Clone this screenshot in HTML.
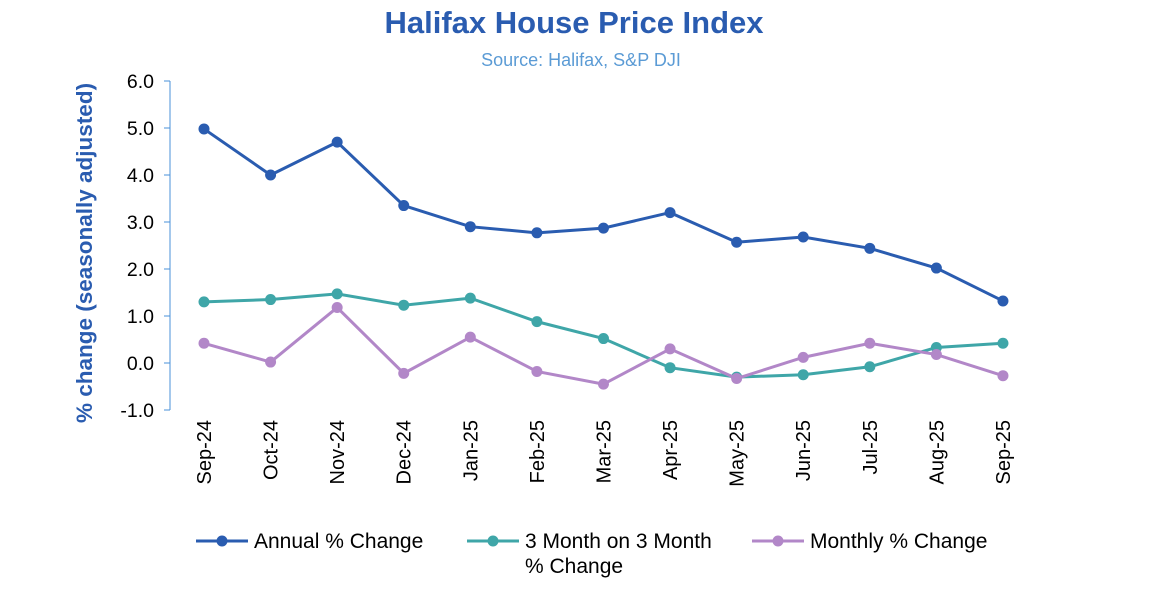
<!DOCTYPE html>
<html><head><meta charset="utf-8"><style>
body{margin:0;background:#fff;font-family:"Liberation Sans",Arial,sans-serif}
</style></head><body>
<svg width="1154" height="594" viewBox="0 0 1154 594" xmlns="http://www.w3.org/2000/svg" font-family="Liberation Sans, Arial, sans-serif">
<text x="574" y="33" text-anchor="middle" font-size="31" font-weight="bold" fill="#2a5cb0">Halifax House Price Index</text>
<text x="581" y="66" text-anchor="middle" font-size="18" fill="#5b9bd5">Source: Halifax, S&amp;P DJI</text>
<text transform="translate(92,253) rotate(-90)" text-anchor="middle" font-size="22.5" font-weight="bold" fill="#2a5cb0">% change (seasonally adjusted)</text>
<g id="axes"></g><g id="series"></g><g id="legend"></g>
</svg>
<script>
const categories=["Sep-24","Oct-24","Nov-24","Dec-24","Jan-25","Feb-25","Mar-25","Apr-25","May-25","Jun-25","Jul-25","Aug-25","Sep-25"];
const annual=[4.98,4.0,4.7,3.35,2.9,2.77,2.87,3.2,2.57,2.68,2.44,2.02,1.32];
const threeMonth=[1.3,1.35,1.47,1.23,1.38,0.88,0.52,-0.1,-0.3,-0.25,-0.08,0.33,0.42];
const monthly=[0.42,0.02,1.18,-0.22,0.55,-0.18,-0.45,0.3,-0.33,0.12,0.42,0.18,-0.27];
const yTicks=[-1,0,1,2,3,4,5,6];
const seriesNames=["Annual % Change","3 Month on 3 Month","Monthly % Change"];
const NS="http://www.w3.org/2000/svg";
function y(v){return 363-v*47;}
function x(i){return 204+i*66.58;}
function mk(t,a,p){const e=document.createElementNS(NS,t);for(const k in a)e.setAttribute(k,a[k]);p.appendChild(e);return e;}
const ax=document.getElementById('axes');
const yl=mk('line',{x1:170,x2:170,y1:y(6),y2:y(-1),stroke:'#4a90d9','stroke-width':1},ax);


yTicks.forEach(v=>{
 const tk=mk('line',{x1:164,x2:170,y1:y(v),y2:y(v),stroke:'#4a90d9'},ax);
 
 
 const t=mk('text',{x:154,y:y(v)+7,'text-anchor':'end','font-size':19.5,fill:'#000'},ax);
 t.textContent=v.toFixed(1);
 
 
});
categories.forEach((c,i)=>{
 const t=mk('text',{transform:`translate(${x(i)+7},420) rotate(-90)`,'text-anchor':'end','font-size':20,fill:'#000'},ax);
 t.textContent=c;
 
 
});
const sg=document.getElementById('series');
function draw(vals,color,name){
 const g=mk('g',{},sg);
 
 
 const pl=mk('polyline',{points:vals.map((v,i)=>x(i)+','+y(v)).join(' '),fill:'none',stroke:color,'stroke-width':3},g);
 
 
 vals.forEach((v,i)=>{
  const c=mk('circle',{cx:x(i),cy:y(v),r:5.5,fill:color},g);
  
  
 });
}
draw(threeMonth,'#3fa6a8','three-month-series');
draw(monthly,'#b287c8','monthly-series');
draw(annual,'#2a5cb0','annual-series');
const lg=document.getElementById('legend');
const items=[[196,'#2a5cb0',seriesNames[0]],[467,'#3fa6a8',seriesNames[1]],[752,'#b287c8',seriesNames[2]]];
items.forEach(([lx,col,nm],k)=>{
 const g=mk('g',{},lg);
 
 
 mk('line',{x1:lx,x2:lx+52,y1:541,y2:541,stroke:col,'stroke-width':3},g);
 mk('circle',{cx:lx+26,cy:541,r:5.5,fill:col},g);
 const t=mk('text',{x:lx+58,y:548,'font-size':21,fill:'#000'},g);
 t.textContent=nm;
 if(k==1){const t2=mk('text',{x:lx+58,y:573,'font-size':21,fill:'#000'},g);t2.textContent='% Change';}
});
</script>
</body></html>
